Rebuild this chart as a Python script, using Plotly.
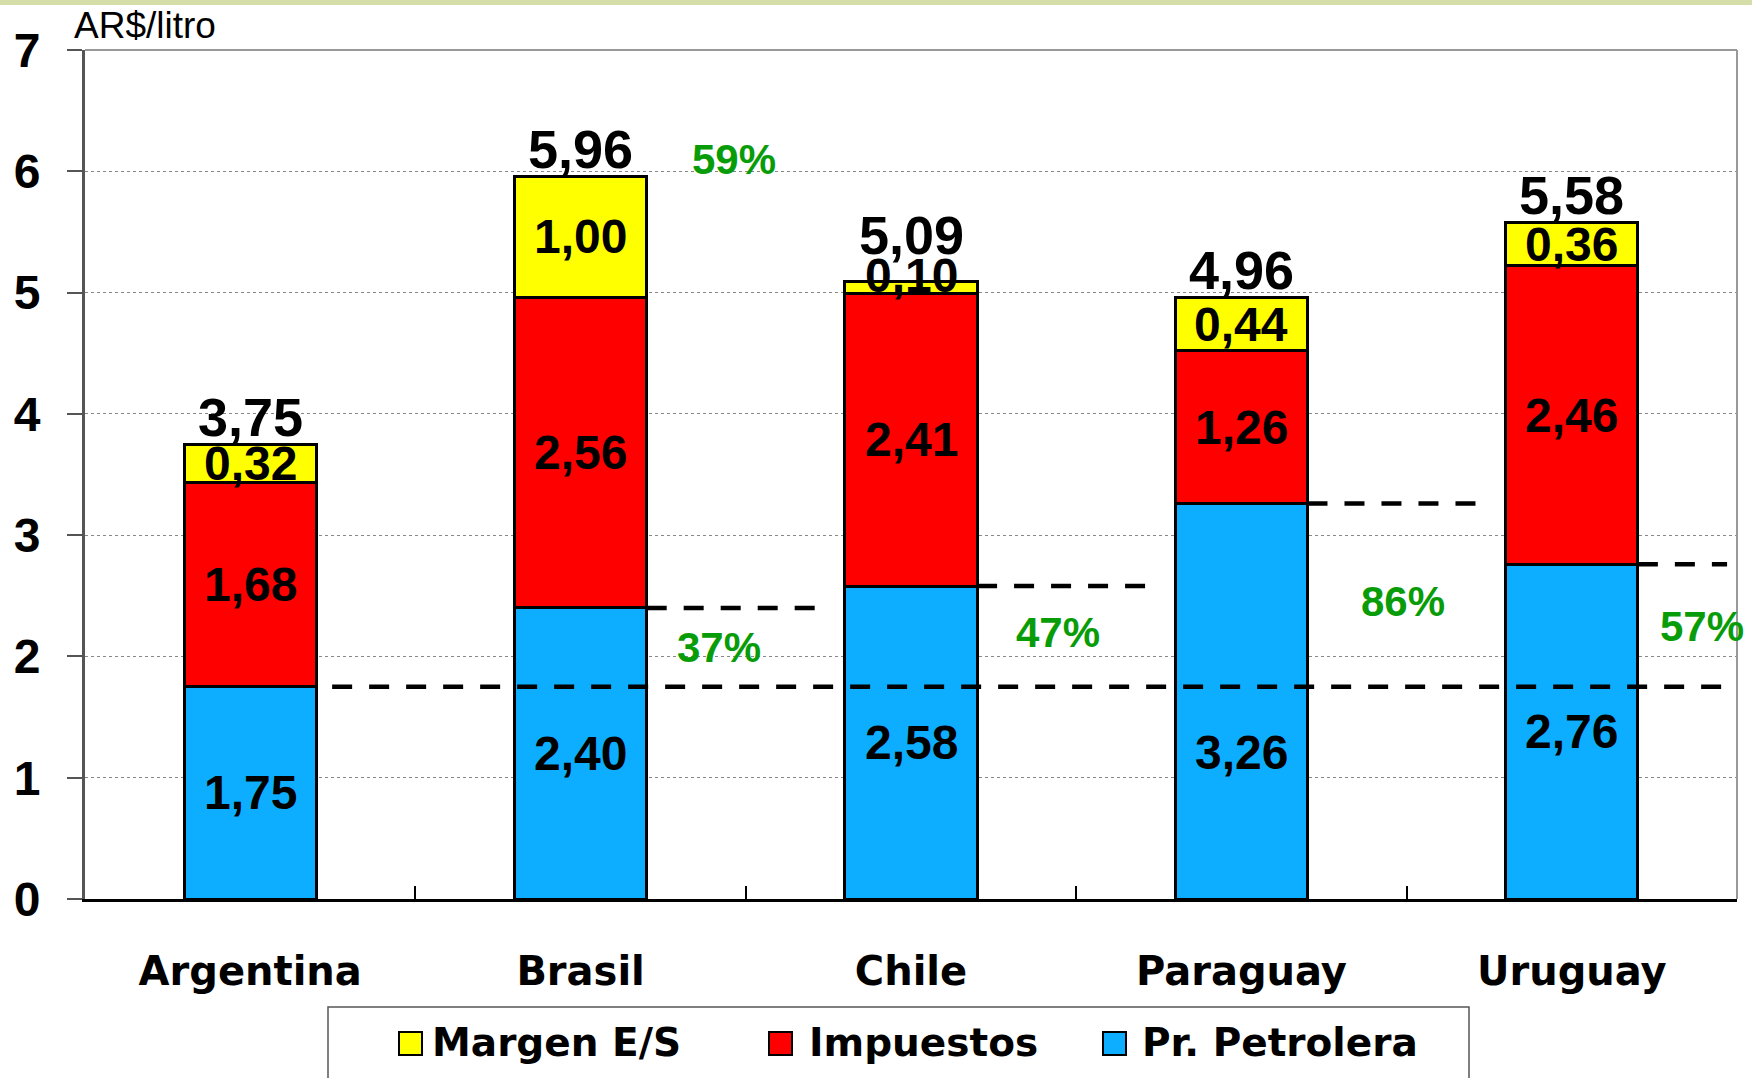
import plotly.graph_objects as go

# ---------------- data ----------------
paises = ["Argentina", "Brasil", "Chile", "Paraguay", "Uruguay"]
pr_petrolera = [1.75, 2.40, 2.58, 3.26, 2.76]
impuestos = [1.68, 2.56, 2.41, 1.26, 2.46]
margen_es = [0.32, 1.00, 0.10, 0.44, 0.36]
totales = [3.75, 5.96, 5.09, 4.96, 5.58]
serie_nombres = ["Margen E/S", "Impuestos", "Pr. Petrolera"]
y_ticks = [0, 1, 2, 3, 4, 5, 6, 7]
unidad = "AR$/litro"
# percentage labels: (text, category index, y value)
pct_textos = ["59%", "37%", "47%", "86%", "57%"]
pct_idx = [1, 1, 2, 3, 4]
pct_y = [6.10, 2.07, 2.20, 2.45, 2.25]

# ---------------- style ----------------
W, H = 1752, 1078
ML, MR, MT, MB = 85, 15, 50, 179
PW, PH = W - ML - MR, H - MT - MB
C_YEL, C_RED, C_BLU = "#FFFF00", "#FF0000", "#0DAEFF"
GREEN = "#099C09"
NUMF = "Liberation Sans"
TXTF = "DejaVu Sans"


def fmt(v):
    return f"{v:.2f}".replace(".", ",")


def px(xp):
    return (xp - ML) / PW


def py(yp):
    return (MT + PH - yp) / PH


fig = go.Figure()
for name, vals, col in [("Pr. Petrolera", pr_petrolera, C_BLU),
                        ("Impuestos", impuestos, C_RED),
                        ("Margen E/S", margen_es, C_YEL)]:
    fig.add_trace(go.Bar(x=paises, y=vals, name=name, width=0.4,
                         marker=dict(color=col, line=dict(color="black", width=3)),
                         showlegend=False, hoverinfo="y+name"))

ann = []
shapes = []
# pixel nudges for a few segment labels (label placement only)
nudge = {("Paraguay", 0): -51, ("Chile", 2): 12}
for i, p in enumerate(paises):
    b0 = 0
    for k, vals in enumerate((pr_petrolera, impuestos, margen_es)):
        v = vals[i]
        ann.append(dict(x=p, y=b0 + v / 2, text=fmt(v), showarrow=False,
                        xref="x", yref="y", yanchor="middle",
                        yshift=nudge.get((p, k), 0),
                        font=dict(family=NUMF, size=48, color="black", weight="bold")))
        b0 += v
    ys = 15 if p == "Chile" else -5
    ann.append(dict(x=p, y=totales[i], text=fmt(totales[i]), showarrow=False,
                    xref="x", yref="y", yanchor="bottom", yshift=ys,
                    font=dict(family=NUMF, size=54, color="black", weight="bold")))

pct_dx = [0.464, 0.42, 0.445, 0.488, 0.394]
for t, ci, yv, dx in zip(pct_textos, pct_idx, pct_y, pct_dx):
    ann.append(dict(x=ci + dx, y=yv, text=t, showarrow=False, xref="x", yref="y",
                    yanchor="middle", xanchor="center",
                    font=dict(family=NUMF, size=42, color=GREEN, weight="bold")))

# dashed reference lines
dash = "20px,17px"
shapes.append(dict(type="line", xref="x", yref="y", x0=0.248, x1=4.47,
                   y0=pr_petrolera[0], y1=pr_petrolera[0], layer="above",
                   line=dict(color="black", width=4.5, dash=dash)))
ends = [None, 1.73, 2.72, 3.71, 4.47]
for i in range(1, 5):
    shapes.append(dict(type="line", xref="x", yref="y", x0=i + 0.2, x1=ends[i],
                       y0=pr_petrolera[i], y1=pr_petrolera[i], layer="above",
                       line=dict(color="black", width=4.5, dash=dash)))

# frame (top & right)
shapes.append(dict(type="line", xref="paper", yref="paper", x0=0, x1=1, y0=1, y1=1,
                   line=dict(color="#999999", width=2)))
shapes.append(dict(type="line", xref="paper", yref="paper", x0=1, x1=1, y0=0, y1=1,
                   line=dict(color="#999999", width=2)))
# top band
shapes.append(dict(type="rect", xref="paper", yref="paper", x0=-0.1, x1=1.1,
                   y0=py(5), y1=py(-2), line=dict(width=0), fillcolor="#D5DDA8"))

# y unit title
ann.append(dict(x=px(72), y=py(25), xref="paper", yref="paper", text=unidad,
                showarrow=False, xanchor="left", yanchor="middle",
                font=dict(family=NUMF, size=37, color="black")))

# manual legend
shapes.append(dict(type="rect", xref="paper", yref="paper", x0=px(328), x1=px(1469),
                   y0=py(1090), y1=py(1007), line=dict(color="#555555", width=1.5),
                   fillcolor="rgba(0,0,0,0)"))
leg_sq_x = [399, 769, 1103]
leg_tx_x = [430, 807, 1140]
leg_cols = [C_YEL, C_RED, C_BLU]
for nm, sx, tx, col in zip(serie_nombres, leg_sq_x, leg_tx_x, leg_cols):
    shapes.append(dict(type="rect", xref="paper", yref="paper", x0=px(sx), x1=px(sx + 23),
                       y0=py(1055), y1=py(1032), fillcolor=col,
                       line=dict(color="black", width=2)))
    ann.append(dict(x=px(tx), y=py(1042), xref="paper", yref="paper", text=nm,
                    showarrow=False, xanchor="left", yanchor="middle",
                    font=dict(family=TXTF, size=39, color="black", weight="bold")))

fig.update_layout(
    width=W, height=H, barmode="stack", bargap=0.6,
    margin=dict(l=ML, r=MR, t=MT, b=MB, autoexpand=False),
    paper_bgcolor="white", plot_bgcolor="white",
    annotations=ann, shapes=shapes, showlegend=False,
    xaxis=dict(type="category", categoryorder="array", categoryarray=paises,
               range=[-0.5, 4.5], tickson="boundaries", ticks="inside", ticklen=13,
               tickwidth=2, tickcolor="black", showline=True, linecolor="black",
               linewidth=3, showgrid=False, ticklabelstandoff=35, automargin=False,
               tickfont=dict(family=TXTF, size=40, color="black", weight="bold")),
    yaxis=dict(range=[0, 7], tickvals=y_ticks, ticktext=[str(t) for t in y_ticks],
               ticks="outside", ticklen=15, tickwidth=2, tickcolor="#555555",
               showline=True, linecolor="#555555", linewidth=3, automargin=False,
               showgrid=True, gridcolor="#888888", gridwidth=1, griddash="dot",
               zeroline=False, ticklabelstandoff=17,
               tickfont=dict(family=NUMF, size=48, color="black", weight="bold")),
)

fig.write_html("out.html", config={"displayModeBar": False},
               post_script="document.body.style.margin='0px';document.body.style.overflow='hidden';")
